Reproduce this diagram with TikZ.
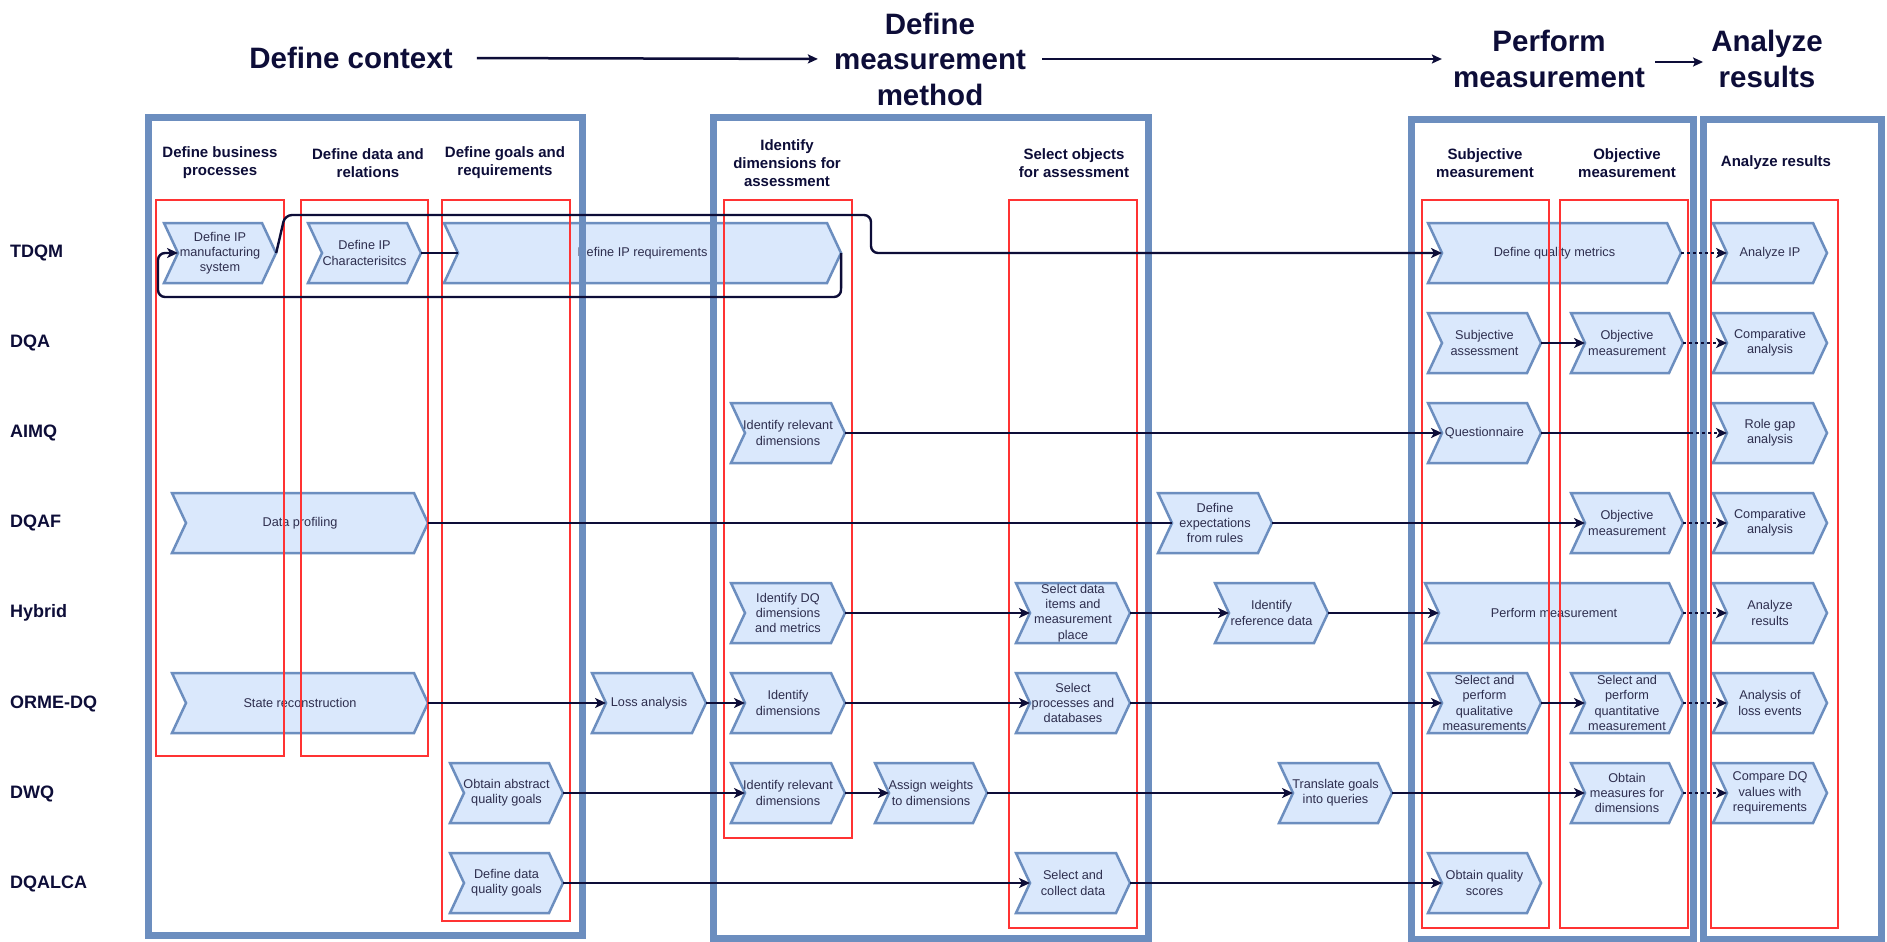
\documentclass[tikz,border=0pt]{standalone}
\usepackage{fontspec}
\setmainfont{Liberation Sans}
\usetikzlibrary{arrows.meta}

\definecolor{ink}{HTML}{0D0D38}
\definecolor{chevfill}{HTML}{DAE8FC}
\definecolor{chevline}{HTML}{6C8EBF}
\definecolor{phaseline}{HTML}{6C8EBF}
\definecolor{laneline}{HTML}{FF3333}
\definecolor{chevtext}{HTML}{2E2E4E}

\tikzset{
  chevshape/.style={draw=chevline, fill=chevfill, line width=2.5pt, line join=miter},
  chevlabel/.style={inner sep=0pt, minimum height=60pt, align=center, text=chevtext,
    font=\fontsize{12.7}{15.2}\selectfont},
  lanebox/.style={draw=laneline, line width=2pt},
  phasebox/.style={draw=phaseline, line width=7pt},
  flowline/.style={draw=ink, line width=2.4pt},
  flow/.style={flowline, -{Stealth[length=11pt,width=10pt,inset=3pt]}},
  dotflow/.style={flow, dash pattern=on 3pt off 3pt},
  titletext/.style={inner sep=0pt, align=center, text=ink,
    font=\fontsize{29.5}{35.5}\selectfont\bfseries},
  titlearrow/.style={draw=ink, line width=2.5pt, -{Stealth[length=10pt,width=9pt,inset=2pt]}},
  colhead/.style={inner sep=0pt, align=center, text=ink,
    font=\fontsize{15}{18}\selectfont\bfseries},
  rowlabel/.style={inner sep=0pt, anchor=west, text=ink,
    font=\fontsize{18}{21}\selectfont\bfseries},
}

% step shape: name, left x, tip x, centre y, text
\newcommand{\chevbox}[5]{%
  \draw[chevshape] (#2,#4-30) -- (#3-14,#4-30) -- (#3,#4) -- (#3-14,#4+30)
    -- (#2,#4+30) -- (#2+14,#4) -- cycle;
  \node[chevlabel, minimum width={(#3-#2)*1pt}] (#1) at ({(#2+#3)/2},#4) {#5};
  \coordinate (#1-in) at (#2+14,#4);
}

\begin{document}
\begin{tikzpicture}[x=1pt,y=-1pt]
\fill[white] (0,0) rectangle (1887,942);
\useasboundingbox (0,0) rectangle (1887,942);

% phase titles
\node[titletext] (c1) at (351,58) {Define context};
\node[titletext] (c2) at (930,59) {Define\\measurement\\method};
\node[titletext] (c3) at (1549,59) {Perform\\measurement};
\node[titletext] (c4) at (1767,59) {Analyze\\results};
\draw[titlearrow, shorten <=24pt, shorten >=16pt] (c1.east) -- (c2.west);
\draw[titlearrow, shorten <=16pt, shorten >=11pt] (c2.east) -- (c3.west);
\draw[titlearrow, shorten <=10pt, shorten >=8pt] ([yshift=-3pt]c3.east) -- ([yshift=-3pt]c4.west);

% column headings
\node[colhead] (h1) at (220,163) {Define business\\processes};
\node[colhead] (h2) at (368,163) {Define data and\\relations};
\node[colhead] (h3) at (505,163) {Define goals and\\requirements};
\node[colhead] (h4) at (787,163) {Identify\\dimensions for\\assessment};
\node[colhead] (h5) at (1074,163) {Select objects\\for assessment};
\node[colhead] (h6) at (1485,163) {Subjective\\measurement};
\node[colhead] (h7) at (1627,163) {Objective\\measurement};
\node[colhead] (h8) at (1776,163) {Analyze results};

% method names
\node[rowlabel] (m1) at (10,253) {TDQM};
\node[rowlabel] (m2) at (10,343) {DQA};
\node[rowlabel] (m3) at (10,433) {AIMQ};
\node[rowlabel] (m4) at (10,523) {DQAF};
\node[rowlabel] (m5) at (10,613) {Hybrid};
\node[rowlabel] (m6) at (10,704) {ORME-DQ};
\node[rowlabel] (m7) at (10,794) {DWQ};
\node[rowlabel] (m8) at (10,884) {DQALCA};

% TDQM
\chevbox{T1}{164}{276}{253}{Define IP\\manufacturing\\system}
\chevbox{T2}{308}{421}{253}{Define IP\\Characterisitcs}
\chevbox{T3}{444}{841}{253}{Define IP requirements}
\chevbox{T4}{1428}{1681}{253}{Define quality metrics}
\chevbox{T5}{1713}{1827}{253}{Analyze IP}
% DQA
\chevbox{Q1}{1428}{1541}{343}{Subjective\\assessment}
\chevbox{Q2}{1571}{1683}{343}{Objective\\measurement}
\chevbox{Q3}{1713}{1827}{343}{Comparative\\analysis}
% AIMQ
\chevbox{A1}{731}{845}{433}{Identify relevant\\dimensions}
\chevbox{A2}{1428}{1541}{433}{Questionnaire}
\chevbox{A3}{1713}{1827}{433}{Role gap\\analysis}
% DQAF
\chevbox{F1}{172}{428}{523}{Data profiling}
\chevbox{F2}{1158}{1272}{523}{Define\\expectations\\from rules}
\chevbox{F3}{1571}{1683}{523}{Objective\\measurement}
\chevbox{F4}{1713}{1827}{523}{Comparative\\analysis}
% Hybrid
\chevbox{H1}{731}{845}{613}{Identify DQ\\dimensions\\and metrics}
\chevbox{H2}{1016}{1130}{613}{Select data\\items and\\measurement\\place}
\chevbox{H3}{1215}{1328}{613}{Identify\\reference data}
\chevbox{H4}{1425}{1683}{613}{Perform measurement}
\chevbox{H5}{1713}{1827}{613}{Analyze\\results}
% ORME-DQ
\chevbox{O1}{172}{428}{703}{State reconstruction}
\chevbox{O2}{592}{706}{703}{Loss analysis}
\chevbox{O3}{731}{845}{703}{Identify\\dimensions}
\chevbox{O4}{1016}{1130}{703}{Select\\processes and\\databases}
\chevbox{O5}{1428}{1541}{703}{Select and\\perform\\qualitative\\measurements}
\chevbox{O6}{1571}{1683}{703}{Select and\\perform\\quantitative\\measurement}
\chevbox{O7}{1713}{1827}{703}{Analysis of\\loss events}
% DWQ
\chevbox{W1}{450}{563}{793}{Obtain abstract\\quality goals}
\chevbox{W2}{731}{845}{793}{Identify relevant\\dimensions}
\chevbox{W3}{875}{987}{793}{Assign weights\\to dimensions}
\chevbox{W4}{1279}{1392}{793}{Translate goals\\into queries}
\chevbox{W5}{1571}{1683}{793}{Obtain\\measures for\\dimensions}
\chevbox{W6}{1713}{1827}{793}{Compare DQ\\values with\\requirements}
% DQALCA
\chevbox{L1}{450}{563}{883}{Define data\\quality goals}
\chevbox{L2}{1016}{1130}{883}{Select and\\collect data}
\chevbox{L3}{1428}{1541}{883}{Obtain quality\\scores}

% activity columns
\draw[lanebox] (156,200) rectangle (284,756);
\draw[lanebox] (301,200) rectangle (428,756);
\draw[lanebox] (442,200) rectangle (569.5,921);
\draw[lanebox] (724,200) rectangle (852,838);
\draw[lanebox] (1009,200) rectangle (1137,928);
\draw[lanebox] (1422,200) rectangle (1549,928);
\draw[lanebox] (1560,200) rectangle (1688,928);
\draw[lanebox] (1711,200) rectangle (1838,928);

% phases
\draw[phasebox] (148,117) rectangle (582,935);
\draw[phasebox] (713.5,117) rectangle (1148.5,938);
\draw[phasebox] (1411,119.5) rectangle (1693,939);
\draw[phasebox] (1703,119.5) rectangle (1881,939);

% TDQM flows
\draw[flow, rounded corners=7pt] (T1.east) -- (285,215) -- (871,215) -- (871,253) -- (T4-in);
\draw[flowline] (T2.east) -- (T3-in);
\draw[flow, rounded corners=7pt] (T3.east) -- (841,297) -- (158,297) -- (158,253) -- (T1-in);
\draw[dotflow] (T4.east) -- (T5-in);
% DQA flows
\draw[flow] (Q1.east) -- (Q2-in);
\draw[dotflow] (Q2.east) -- (Q3-in);
% AIMQ flows
\coordinate (A2x) at (1690,433);
\draw[flow] (A1.east) -- (A2-in);
\draw[flowline] (A2.east) -- (A2x);
\draw[dotflow] (A2x) -- (A3-in);
% DQAF flows
\draw[flowline] (F1.east) -- (F2-in);
\draw[flow] (F2.east) -- (F3-in);
\draw[dotflow] (F3.east) -- (F4-in);
% Hybrid flows
\draw[flow] (H1.east) -- (H2-in);
\draw[flow] (H2.east) -- (H3-in);
\draw[flow] (H3.east) -- (H4-in);
\draw[dotflow] (H4.east) -- (H5-in);
% ORME-DQ flows
\draw[flow] (O1.east) -- (O2-in);
\draw[flow] (O2.east) -- (O3-in);
\draw[flow] (O3.east) -- (O4-in);
\draw[flow] (O4.east) -- (O5-in);
\draw[flow] (O5.east) -- (O6-in);
\draw[dotflow] (O6.east) -- (O7-in);
% DWQ flows
\draw[flow] (W1.east) -- (W2-in);
\draw[flow] (W2.east) -- (W3-in);
\draw[flow] (W3.east) -- (W4-in);
\draw[flow] (W4.east) -- (W5-in);
\draw[dotflow] (W5.east) -- (W6-in);
% DQALCA flows
\draw[flow] (L1.east) -- (L2-in);
\draw[flow] (L2.east) -- (L3-in);
\end{tikzpicture}
\end{document}
